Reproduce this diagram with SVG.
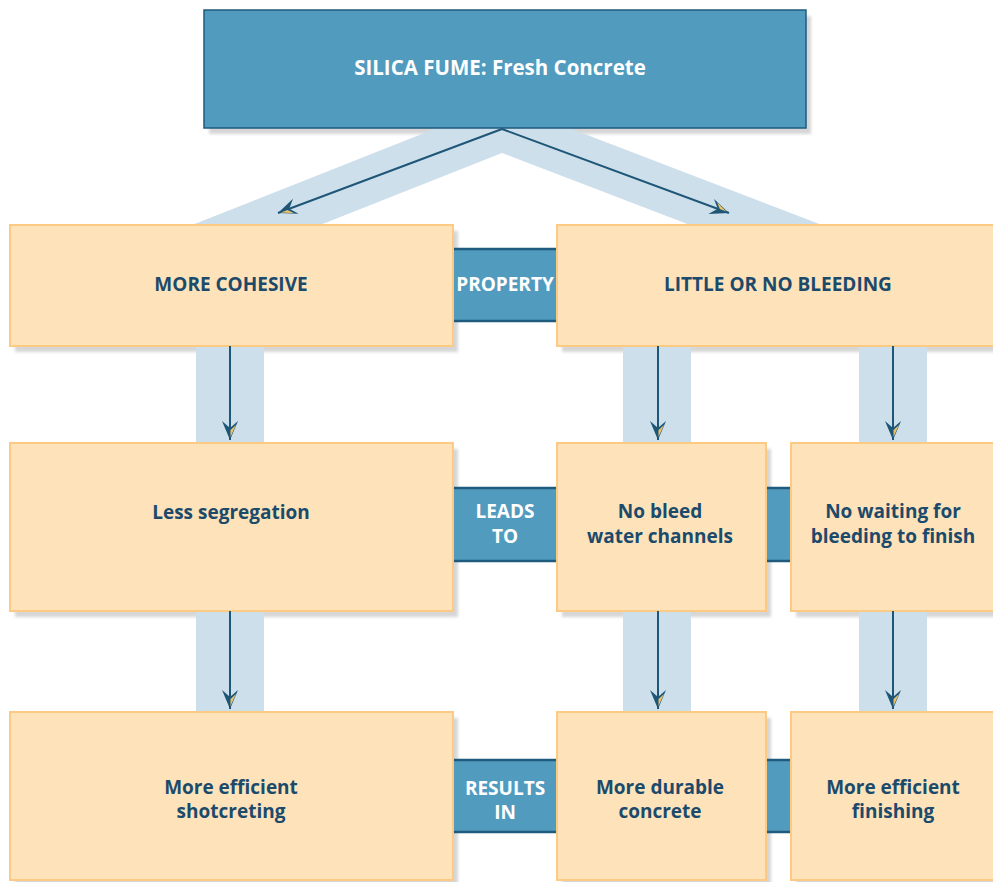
<svg xmlns="http://www.w3.org/2000/svg" width="993" height="882" viewBox="0 0 993 882">
<style>
.sh{fill:#d6d6d6}
.box{fill:#fde2ba;stroke:#fcca82;stroke-width:2}
.dbox{fill:#519bbf;stroke:#1e5b7d;stroke-width:1.5}
.band{fill:#519bbf}
.bline{stroke:#1e5b7d;stroke-width:2.5}
.lb{fill:#cddfeb}
.t{font-family:"Open Sans","Noto Sans",sans-serif;font-weight:bold;font-size:19px;fill:#1b4a6b;text-anchor:middle}
.w{fill:#ffffff}
.big{font-size:20.5px}
.ar{stroke:#1e5677;stroke-width:2;fill:none}
</style>
<defs>
<filter id="blur" x="-5%" y="-5%" width="110%" height="110%"><feGaussianBlur stdDeviation="1.5"/></filter>
<marker id="ah" viewBox="-20 -10 22 20" refX="0" refY="0" markerWidth="22" markerHeight="20" markerUnits="userSpaceOnUse" orient="auto">
<path d="M0,0 L-19,-8 L-12,0 L-19,8 Z" fill="#1e5677"/>
<path d="M-3,-0.5 L-15,-6 L-10,-0.5 Z" fill="#e9c26a"/>
</marker>
</defs>
<g id="shadows" filter="url(#blur)">
<rect class="sh" x="209" y="16" width="602" height="118"/>
<rect class="sh" x="15" y="231" width="443" height="121"/>
<rect class="sh" x="562" y="231" width="445" height="121"/>
<rect class="sh" x="15" y="449" width="443" height="168"/>
<rect class="sh" x="562" y="449" width="209" height="168"/>
<rect class="sh" x="796" y="449" width="210" height="168"/>
<rect class="sh" x="15" y="718" width="443" height="168"/>
<rect class="sh" x="562" y="718" width="209" height="168"/>
<rect class="sh" x="796" y="718" width="210" height="168"/>
</g>
<g id="bands">
<polygon class="lb" points="192,225 437,128 569,128 822,225 690,225 502,153 320,225"/>
<rect class="lb" x="196" y="346" width="68" height="97"/>
<rect class="lb" x="623" y="346" width="68" height="97"/>
<rect class="lb" x="859" y="346" width="68" height="97"/>
<rect class="lb" x="196" y="611" width="68" height="101"/>
<rect class="lb" x="623" y="611" width="68" height="101"/>
<rect class="lb" x="859" y="611" width="68" height="101"/>
</g>
<g id="top">
<rect class="dbox" x="204" y="10" width="602" height="118"/>
<text class="t w big" x="500" y="75">SILICA FUME: Fresh Concrete</text>
</g>
<g id="property">
<rect class="band" x="453" y="249" width="104" height="72"/>
<line class="bline" x1="453" y1="249" x2="557" y2="249"/>
<line class="bline" x1="453" y1="321" x2="557" y2="321"/>
<text class="t w" x="505" y="291">PROPERTY</text>
</g>
<g id="leadsto">
<rect class="band" x="453" y="488" width="104" height="73"/>
<line class="bline" x1="453" y1="488" x2="557" y2="488"/>
<line class="bline" x1="453" y1="561" x2="557" y2="561"/>
<rect class="band" x="766" y="488" width="25" height="73"/>
<line class="bline" x1="766" y1="488" x2="791" y2="488"/>
<line class="bline" x1="766" y1="561" x2="791" y2="561"/>
<text class="t w" x="505" y="518">LEADS</text>
<text class="t w" x="505" y="543">TO</text>
</g>
<g id="resultsin">
<rect class="band" x="453" y="760" width="104" height="72"/>
<line class="bline" x1="453" y1="760" x2="557" y2="760"/>
<line class="bline" x1="453" y1="832" x2="557" y2="832"/>
<rect class="band" x="766" y="760" width="25" height="72"/>
<line class="bline" x1="766" y1="760" x2="791" y2="760"/>
<line class="bline" x1="766" y1="832" x2="791" y2="832"/>
<text class="t w" x="505" y="795">RESULTS</text>
<text class="t w" x="505" y="819">IN</text>
</g>
<g id="more-cohesive">
<rect class="box" x="10" y="225" width="443" height="121"/>
<text class="t" x="231" y="291">MORE COHESIVE</text>
</g>
<g id="little-bleeding">
<rect class="box" x="557" y="225" width="445" height="121"/>
<text class="t" x="778" y="291">LITTLE OR NO BLEEDING</text>
</g>
<g id="less-segregation">
<rect class="box" x="10" y="443" width="443" height="168"/>
<text class="t" x="231" y="519">Less segregation</text>
</g>
<g id="no-bleed-channels">
<rect class="box" x="557" y="443" width="209" height="168"/>
<text class="t" x="660" y="518">No bleed</text>
<text class="t" x="660" y="543">water channels</text>
</g>
<g id="no-waiting">
<rect class="box" x="791" y="443" width="210" height="168"/>
<text class="t" x="893" y="518">No waiting for</text>
<text class="t" x="893" y="543">bleeding to finish</text>
</g>
<g id="efficient-shotcreting">
<rect class="box" x="10" y="712" width="443" height="168"/>
<text class="t" x="231" y="794">More efficient</text>
<text class="t" x="231" y="818">shotcreting</text>
</g>
<g id="durable-concrete">
<rect class="box" x="557" y="712" width="209" height="168"/>
<text class="t" x="660" y="794">More durable</text>
<text class="t" x="660" y="818">concrete</text>
</g>
<g id="efficient-finishing">
<rect class="box" x="791" y="712" width="210" height="168"/>
<text class="t" x="893" y="794">More efficient</text>
<text class="t" x="893" y="818">finishing</text>
</g>
<g id="connectors">
<line class="ar" x1="502" y1="129" x2="278" y2="213" marker-end="url(#ah)"/>
<line class="ar" x1="502" y1="129" x2="729" y2="213" marker-end="url(#ah)"/>
<line class="ar" x1="230" y1="346" x2="230" y2="440" marker-end="url(#ah)"/>
<line class="ar" x1="658" y1="346" x2="658" y2="440" marker-end="url(#ah)"/>
<line class="ar" x1="893" y1="346" x2="893" y2="440" marker-end="url(#ah)"/>
<line class="ar" x1="230" y1="611" x2="230" y2="709" marker-end="url(#ah)"/>
<line class="ar" x1="658" y1="611" x2="658" y2="709" marker-end="url(#ah)"/>
<line class="ar" x1="893" y1="611" x2="893" y2="709" marker-end="url(#ah)"/>
</g>
</svg>
